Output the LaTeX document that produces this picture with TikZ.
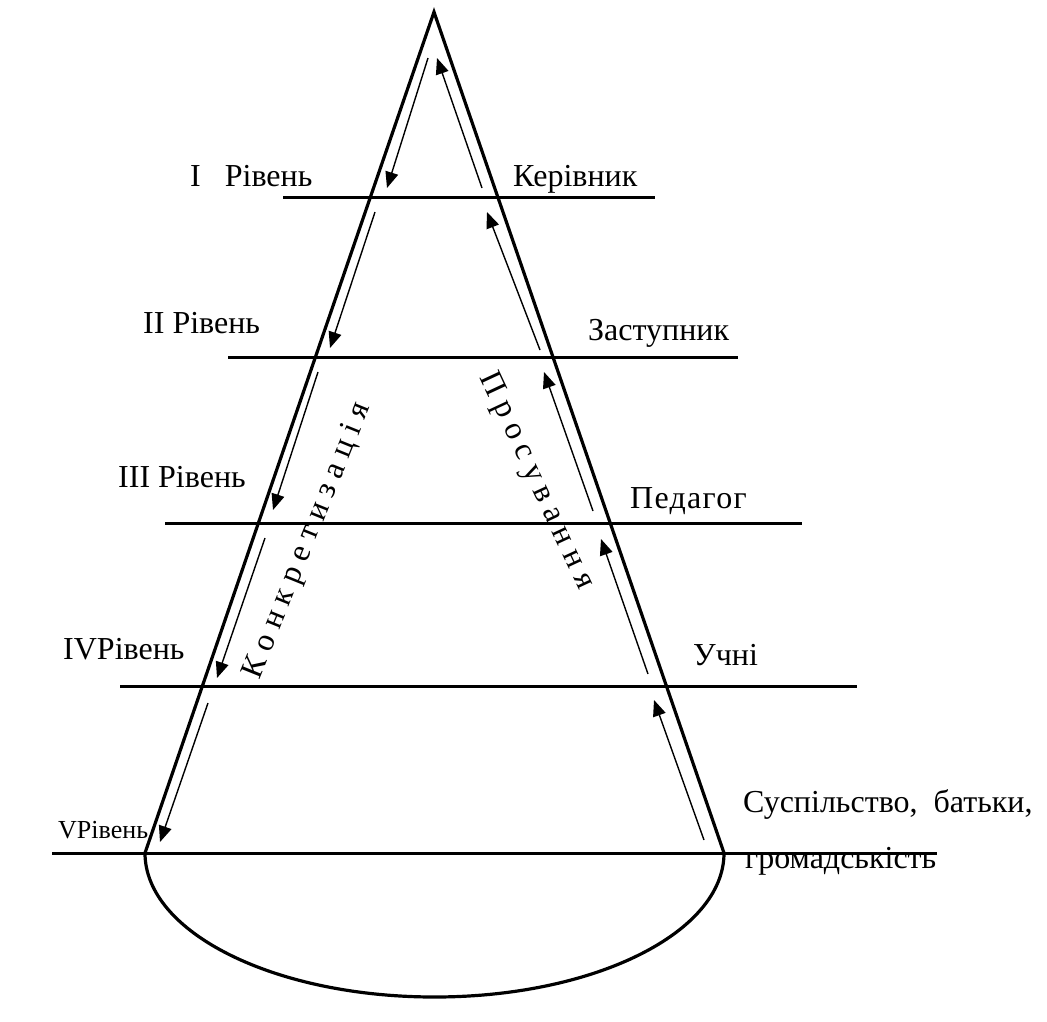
\documentclass[tikz,border=0pt]{standalone}
\usepackage{fontspec}
\setmainfont{Liberation Serif}
\newfontfamily\tnr{Liberation Serif}
\newfontfamily\tnrwide[LetterSpace=4]{Liberation Serif}
\usetikzlibrary{arrows.meta}
\begin{document}
\begin{tikzpicture}[x=1pt,y=-1pt,
  edge/.style={line width=3.2pt},
  levelline/.style={line width=3.0pt},
  flow/.style={line width=1.4pt,-{Triangle[length=16pt,width=13pt]}},
  lbl/.style={font=\tnr\fontsize{32}{38}\selectfont, inner sep=0pt, anchor=base west},
  rot/.style={font=\tnr\fontsize{32}{38}\selectfont, inner sep=0pt}]
\useasboundingbox (0,0) rectangle (1047,1021);
% cone
\coordinate (apex) at (434,12);
\coordinate (bl) at (145,853);
\coordinate (br) at (724,853);
\draw[edge, line join=miter] (bl) -- (apex) -- (br);
\draw[edge] (bl) arc[start angle=180, end angle=360, x radius=289.5pt, y radius=144pt];
% level lines
\coordinate (l1a) at (283,197); \coordinate (l1b) at (655,197);
\coordinate (l2a) at (228,357); \coordinate (l2b) at (738,357);
\coordinate (l3a) at (165,523); \coordinate (l3b) at (802,523);
\coordinate (l4a) at (120,686); \coordinate (l4b) at (857,686);
\coordinate (l5a) at (52,853);  \coordinate (l5b) at (937,853);
\foreach \i in {1,...,5} \draw[levelline] (l\i a) -- (l\i b);
% downward arrows (left)
\coordinate (d1s) at (428,58);  \coordinate (d1e) at (387,188);
\coordinate (d2s) at (375,212); \coordinate (d2e) at (330,348);
\coordinate (d3s) at (318,372); \coordinate (d3e) at (273,510);
\coordinate (d4s) at (265,538); \coordinate (d4e) at (217,678);
\coordinate (d5s) at (208,703); \coordinate (d5e) at (160,842);
% upward arrows (right)
\coordinate (u1s) at (482,188); \coordinate (u1e) at (437,58);
\coordinate (u2s) at (540,350); \coordinate (u2e) at (487,212);
\coordinate (u3s) at (593,511); \coordinate (u3e) at (544,372);
\coordinate (u4s) at (648,674); \coordinate (u4e) at (601,539);
\coordinate (u5s) at (704,840); \coordinate (u5e) at (654,700);
\foreach \i in {1,...,5} {
  \draw[flow] (d\i s) -- (d\i e);
  \draw[flow] (u\i s) -- (u\i e);
}
% labels
\node[lbl] (r1) at (190,186) {I\ \ \ Рівень};
\node[lbl] (p1) at (513,186) {Керівник};
\node[lbl] (r2) at (143,333) {II Рівень};
\node[lbl] (p2) at (588,340) {Заступник};
\node[lbl] (r3) at (118,487) {III Рівень};
\node[lbl, font=\tnrwide\fontsize{32}{38}\selectfont] (p3) at (630,508) {Педагог};
\node[lbl] (r4) at (63,659) {IVРівень};
\node[lbl, font=\tnr\fontsize{26}{32}\selectfont] (r5) at (58,838) {VРівень};
\node[lbl] (p4) at (693,665) {Учні};
\node[lbl] (p5a) at (743,812) {Суспільство,\ \ батьки,};
\node[lbl] (p5b) at (745,868) {громадськість};
% rotated labels
\node[rot, rotate=68] (konk) at (308,541) {К о н к р е т и з а ц і я};
\node[rot, rotate=-65] (pros) at (536,481) {П р о с у в а н н я};
\end{tikzpicture}
\end{document}
